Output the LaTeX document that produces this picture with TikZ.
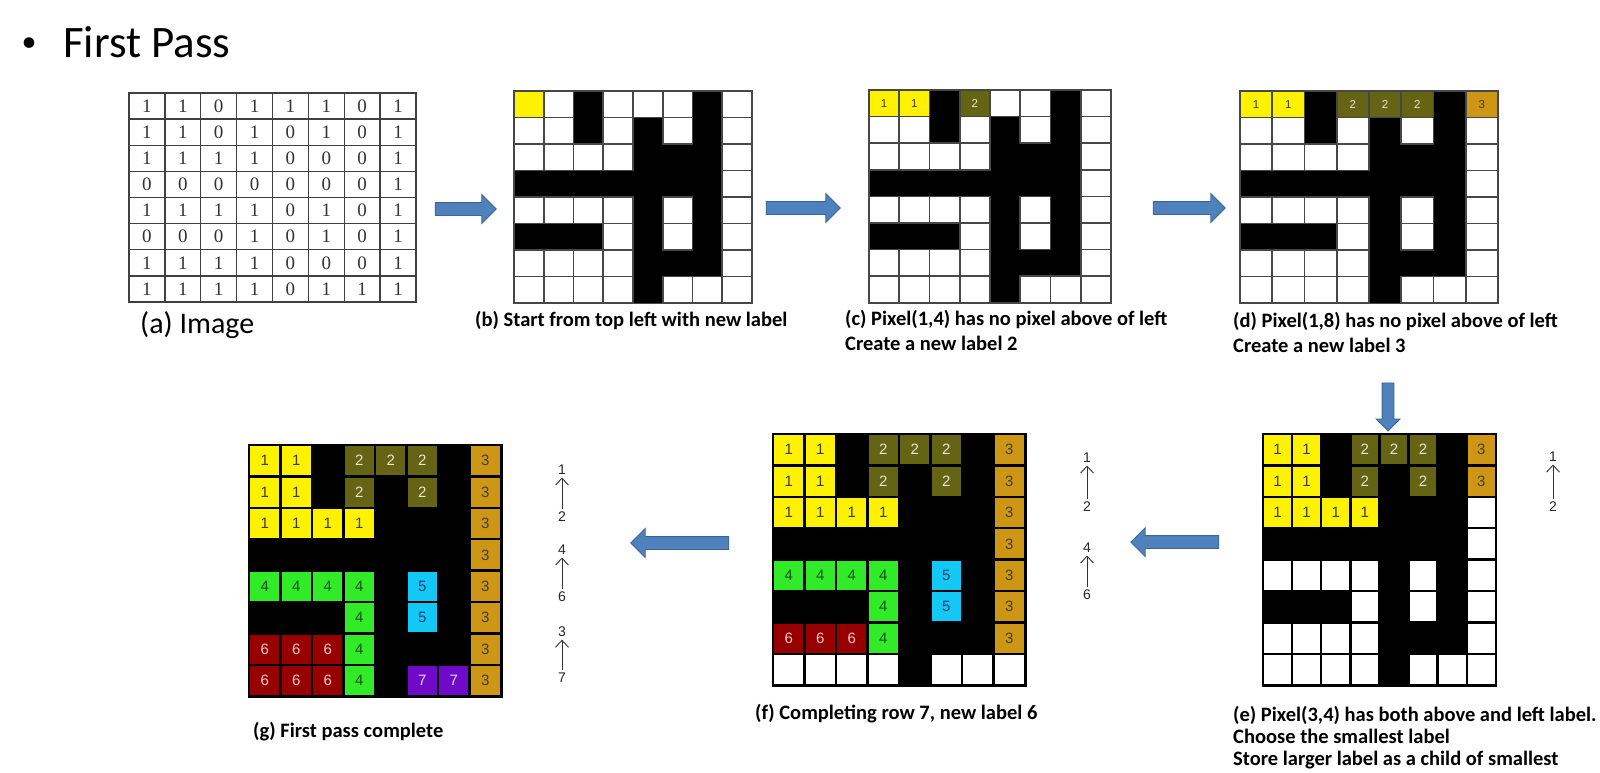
\documentclass[tikz,border=0pt]{standalone}
\usepackage{fontspec}
\setmainfont{Carlito}
\newfontfamily\arialfont{Liberation Sans}
\newfontfamily\timesfont{Liberation Serif}
\usetikzlibrary{positioning, arrows.meta, shapes.arrows}

\definecolor{lab1}{RGB}{255,242,0}
\definecolor{lab2}{RGB}{100,100,20}
\definecolor{lab3}{RGB}{205,150,20}
\definecolor{lab4}{RGB}{50,235,40}
\definecolor{lab5}{RGB}{20,200,245}
\definecolor{lab6}{RGB}{150,0,0}
\definecolor{lab7}{RGB}{110,10,200}
\definecolor{txt1}{RGB}{60,60,60}
\definecolor{txt2}{RGB}{230,230,210}
\definecolor{txt3}{RGB}{70,60,40}
\definecolor{txt4}{RGB}{20,80,20}
\definecolor{txt5}{RGB}{20,60,110}
\definecolor{txt6}{RGB}{255,200,200}
\definecolor{txt7}{RGB}{225,210,255}
\definecolor{arrowblue}{RGB}{79,129,189}
\definecolor{arrowedge}{RGB}{60,100,155}

% labels after the first pass (0 = background)
\newcommand{\labelrows}{{1,1,0,2,2,2,0,3},{1,1,0,2,0,2,0,3},{1,1,1,1,0,0,0,3},{0,0,0,0,0,0,0,3},{4,4,4,4,0,5,0,3},{0,0,0,4,0,5,0,3},{6,6,6,4,0,0,0,3},{6,6,6,4,0,7,7,3}}

% pixel grid: name, left, top, cell width, cell height, labelled up to, style
\newcommand{\labelgrid}[7]{%
	\node[gridframe, minimum width=8*#4, minimum height=8*#5] (#1) at (#2,#3) {};
	\fill[black] (#1.north west) rectangle (#1.south east);
	\foreach \row [count=\r] in \labelrows {
		\foreach \v [count=\c] in \row {
			\pgfmathtruncatemacro{\idx}{(\r-1)*8+\c}
			\ifnum\v>0
				\ifnum\idx>#6
					\draw[#7, fill=white] (#2+\c*#4-#4, #3+\r*#5-#5) rectangle ++(#4,#5);
				\else
					\draw[#7, fill=lab\v] (#2+\c*#4-#4, #3+\r*#5-#5) rectangle ++(#4,#5);
					\node[#7num, text=txt\v] (#1-\r-\c) at (#2+\c*#4-0.5*#4, #3+\r*#5-0.5*#5) {\v};
				\fi
			\fi
		}
	}
	\draw[#7] (#1.north west) rectangle (#1.south east);
}

\tikzset{
	gridframe/.style={anchor=north west, inner sep=0pt},
	cellS/.style={draw=black!72, line width=1.6pt},
	cellSnum/.style={font=\arialfont\fontsize{11.5}{12}\selectfont, inner sep=0pt},
	cellL/.style={draw=black, line width=2.4pt},
	cellLnum/.style={font=\arialfont\fontsize{15}{15}\selectfont, inner sep=0pt},
	imgline/.style={draw=black!75, line width=1.3pt},
	imgnum/.style={font=\timesfont\fontsize{19}{19}\selectfont, text=black!80, inner sep=0pt},
	flowarrow/.style={single arrow, draw=arrowedge, fill=arrowblue, line width=0.8pt, inner xsep=0pt, inner ysep=6pt, single arrow head extend=8pt},
	downarrow/.style={single arrow, draw=arrowedge, fill=arrowblue, line width=0.8pt, inner xsep=5.5pt, inner ysep=0pt, single arrow head extend=6pt, shape border rotate=270},
	caption/.style={font=\bfseries\fontsize{20.5}{25}\selectfont, align=left, inner sep=0pt, anchor=north west},
	treenum/.style={font=\arialfont\fontsize{14}{14}\selectfont, inner sep=2.5pt, text=black!85},
	treelink/.style={-{Straight Barb[length=7pt, width=13pt]}, line width=0.9pt, black!80}
}

\begin{document}
\begin{tikzpicture}[x=1pt, y=-1pt]
	\fill[white] (0,0) rectangle (1600,773);
	\useasboundingbox (0,0) rectangle (1600,773);
	
	% Title
	\node[anchor=base, font=\fontsize{30}{36}\selectfont, inner sep=0pt] (bullet) at (29,52) {\textbullet};
	\node[anchor=base west, font=\fontsize{45}{54}\selectfont, inner sep=0pt] (title) at (63,58) {First Pass};
	
	% (a) binary image
	\node[gridframe, minimum width=287, minimum height=209] (imgA) at (129,93) {};
	\foreach \row [count=\r] in \labelrows {
		\foreach \v [count=\c] in \row {
			\pgfmathtruncatemacro{\bit}{\v>0}
			\draw[imgline] (129+\c*35.875-35.875, 93+\r*26.125-26.125) rectangle ++(35.875,26.125);
			\node[imgnum] (imgA-\r-\c) at (129+\c*35.875-17.94, 93+\r*26.125-13.06) {\bit};
		}
	}
	\node[anchor=base west, font=\fontsize{30}{36}\selectfont, inner sep=0pt] (capA) at (140,333) {(a) Image};
	
	% Pixel grids
	\labelgrid{gridB}{514}{91}{29.75}{26.5}{0}{cellS}
	\draw[cellS, fill=lab1] (gridB.north west) rectangle ++(29.75,26.5);
	\labelgrid{gridC}{869}{90}{30.25}{26.6}{4}{cellS}
	\labelgrid{gridD}{1240}{91}{32.25}{26.5}{8}{cellS}
	\labelgrid{gridE}{1263}{434}{29.1}{31.4}{20}{cellL}
	\labelgrid{gridF}{773}{434}{31.5}{31.4}{56}{cellL}
	\labelgrid{gridG}{249}{445}{31.5}{31.4}{64}{cellL}
	
	% Captions
	\node[caption] (capB) at ([shift={(-39,8)}]gridB.south west) {(b) Start from top left with new label};
	\node[caption] (capC) at ([shift={(-24,7)}]gridC.south west) {(c) Pixel(1,4) has no pixel above of left\\Create a new label 2};
	\node[caption] (capD) at ([shift={(-7,9)}]gridD.south west) {(d) Pixel(1,8) has no pixel above of left\\Create a new label 3};
	\node[caption, font=\bfseries\fontsize{20.5}{22}\selectfont] (capE) at ([shift={(-30,20)}]gridE.south west) {(e) Pixel(3,4) has both above and left label.\\Choose the smallest label\\Store larger label as a child of smallest};
	\node[caption] (capF) at ([shift={(-18,18)}]gridF.south west) {(f) Completing row 7, new label 6};
	\node[caption] (capG) at ([shift={(4,25)}]gridG.south west) {(g) First pass complete};
	
	% Flow arrows
	\node[flowarrow, minimum height=61pt] (arrAB) at (462.5,209) {};
	\node[flowarrow, minimum height=74pt] (arrBC) at (800,208) {};
	\node[flowarrow, minimum height=72pt] (arrCD) at (1186,208) {};
	\node[downarrow, minimum height=48pt] (arrDE) at (1388,404) {};
	\node[flowarrow, minimum height=88pt, shape border rotate=180] (arrEF) at (1178,542) {};
	\node[flowarrow, minimum height=98pt, shape border rotate=180] (arrFG) at (683,543) {};
	
	% Parent links
	\node[treenum] (e1) at (1553,457) {1};
	\node[treenum] (e2) at (1553,507) {2};
	\draw[treelink] (e2) -- (e1);
	
	\node[treenum] (f1) at (1087,458) {1};
	\node[treenum] (f2) at (1087,507) {2};
	\node[treenum] (f4) at (1087,548) {4};
	\node[treenum] (f6) at (1087,595) {6};
	\draw[treelink] (f2) -- (f1);
	\draw[treelink] (f6) -- (f4);
	
	\node[treenum] (g1) at (562,470) {1};
	\node[treenum] (g2) at (562,517) {2};
	\node[treenum] (g4) at (562,550) {4};
	\node[treenum] (g6) at (562,597) {6};
	\node[treenum] (g3) at (562,632) {3};
	\node[treenum] (g7) at (562,678) {7};
	\draw[treelink] (g2) -- (g1);
	\draw[treelink] (g6) -- (g4);
	\draw[treelink] (g7) -- (g3);
	
\end{tikzpicture}
\end{document}
